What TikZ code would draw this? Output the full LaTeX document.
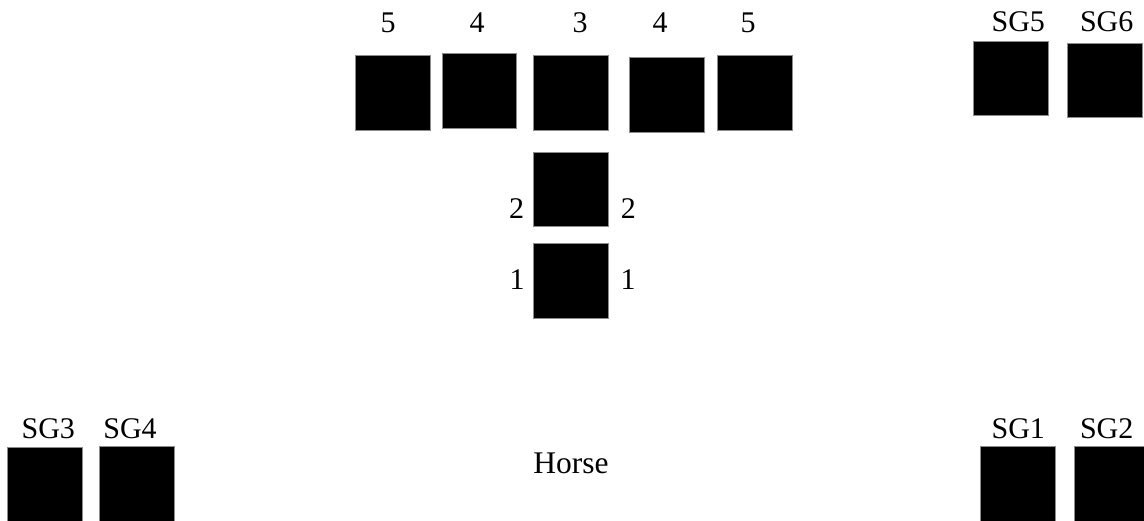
\documentclass[tikz,border=0pt]{standalone}
\usepackage{fontspec}
\setmainfont{Liberation Serif}
\begin{document}
\begin{tikzpicture}[x=1pt,y=-1pt,
  blk/.style={draw=black!45,fill=black,line width=0.6pt,minimum width=74.5pt,minimum height=74.5pt,inner sep=0pt,anchor=north west},
  lbl/.style={font=\fontsize{30}{36}\selectfont,inner sep=0pt,anchor=center}]
\useasboundingbox (0,0) rectangle (1144,520);
\clip (0,0) rectangle (1144,520);
% top row
\node[blk] (b5l) at (355,55) {};
\node[blk] (b4l) at (441.7,53.3) {};
\node[blk] (b3) at (533.3,55) {};
\node[blk] (b4r) at (629.3,57.3) {};
\node[blk] (b5r) at (717.3,55) {};
\node[lbl] (t5l) at (388,23) {5};
\node[lbl] (t4l) at (477,23) {4};
\node[lbl] (t3) at (580,23) {3};
\node[lbl] (t4r) at (660,23) {4};
\node[lbl] (t5r) at (748,23) {5};
% column
\node[blk] (b2) at (533.3,151.7) {};
\node[blk] (b1) at (533.3,243.3) {};
\node[lbl] (t2l) at (516.7,208.3) {2};
\node[lbl] (t2r) at (628.3,208.3) {2};
\node[lbl] (t1l) at (517,280) {1};
\node[lbl] (t1r) at (628,280) {1};
% SG5 SG6
\node[blk] (sg5) at (973.3,40.7) {};
\node[blk] (sg6) at (1067.3,42.7) {};
\node[lbl] (tsg5) at (1018.3,21.7) {SG5};
\node[lbl] (tsg6) at (1106.7,21.7) {SG6};
% SG3 SG4
\node[blk] (sg3) at (7.3,447.3) {};
\node[blk] (sg4) at (99.3,446) {};
\node[lbl] (tsg3) at (48.3,428.3) {SG3};
\node[lbl] (tsg4) at (130,428.3) {SG4};
% SG1 SG2
\node[blk] (sg1) at (980,446) {};
\node[blk] (sg2) at (1074,446) {};
\node[lbl] (tsg1) at (1018.3,428.3) {SG1};
\node[lbl] (tsg2) at (1106.7,428.3) {SG2};
% Horse
\node[lbl,font=\fontsize{31.5}{38}\selectfont] (horse) at (571,463) {Horse};
\end{tikzpicture}
\end{document}
